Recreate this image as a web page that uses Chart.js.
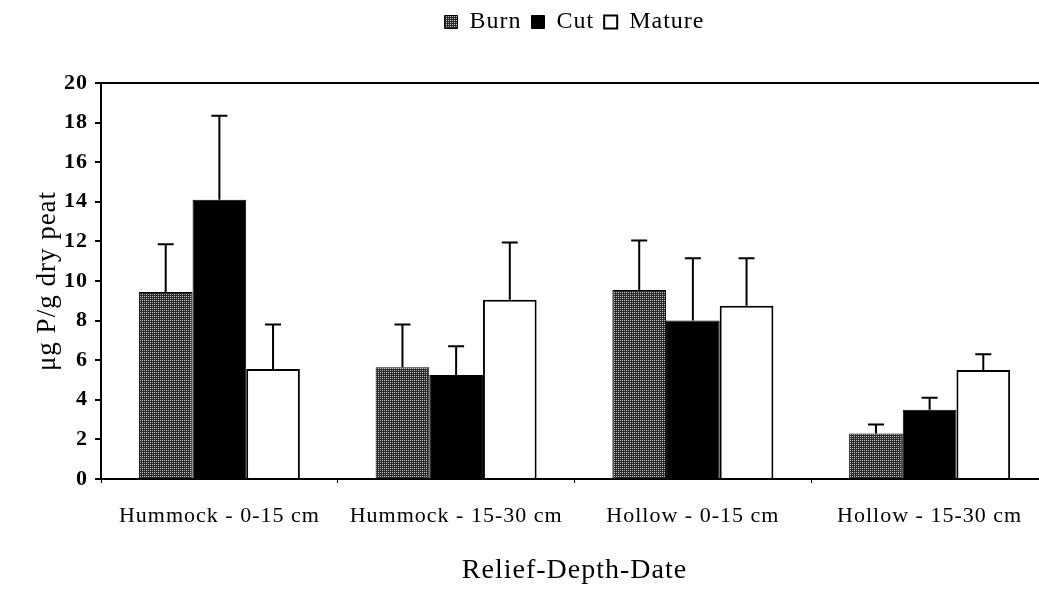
<!DOCTYPE html>
<html>
<head>
<meta charset="utf-8">
<script src="https://cdn.jsdelivr.net/npm/chart.js@4.4.1/dist/chart.umd.min.js"></script>
<style>
    html, body { margin: 0; padding: 0; background: #fff; overflow: hidden; }
    #wrap { width: 1148px; height: 589px; }
</style>
</head>
<body>
<div id="wrap"><canvas id="peatChart"></canvas></div>
<script>
// Phosphorus in peat by relief/depth, three site treatments
const categories = ['Hummock - 0-15 cm', 'Hummock - 15-30 cm', 'Hollow - 0-15 cm', 'Hollow - 15-30 cm'];
const burn = [9.45, 5.65, 9.55, 2.3];
const cut = [14.1, 5.25, 8.0, 3.5];
const mature = [5.55, 9.05, 8.75, 5.5];
// upper end of each error bar
const burnErr = [11.85, 7.8, 12.05, 2.75];
const cutErr = [18.35, 6.7, 11.15, 4.1];
const matureErr = [7.8, 11.95, 11.15, 6.3];
const yTicks = [0, 2, 4, 6, 8, 10, 12, 14, 16, 18, 20];

const serif = "'Liberation Serif', 'DejaVu Serif', serif";

// stippled grey fill for the Burn bars
function stipple() {
    const c = document.createElement('canvas');
    c.width = 4; c.height = 4;
    const g = c.getContext('2d');
    g.fillStyle = '#2a2a2a';
    g.fillRect(0, 0, 4, 4);
    g.fillStyle = '#c8c8c8';
    g.fillRect(0, 0, 1, 1);
    g.fillRect(2, 2, 1, 1);
    g.fillRect(2, 0, 1, 1);
    g.fillStyle = '#8a8a8a';
    g.fillRect(0, 2, 1, 1);
    return g.createPattern(c, 'repeat');
}
const burnFill = stipple();

// slightly loose type, like the old print
const spacing = {
    id: 'spacing',
    beforeUpdate(chart) { chart.ctx.letterSpacing = '1px'; },
    beforeLayout(chart) { chart.ctx.letterSpacing = '1px'; },
    beforeDraw(chart) { chart.ctx.letterSpacing = '1px'; }
};

// extra room between the legend and the plot
const legendGap = {
    id: 'legendGap',
    beforeInit(chart) {
        const fit = chart.legend.fit;
        chart.legend.fit = function () {
            fit.call(this);
            this.height += 39;
        };
    }
};

// error bars (upper whisker only) + top frame line
const extras = {
    id: 'extras',
    afterDatasetsDraw(chart) {
        const ctx = chart.ctx;
        const y = chart.scales.y;
        ctx.save();
        ctx.strokeStyle = '#000';
        ctx.lineWidth = 2;
        chart.data.datasets.forEach((ds, i) => {
            const meta = chart.getDatasetMeta(i);
            meta.data.forEach((bar, j) => {
                const top = y.getPixelForValue(ds.errTop[j]);
                ctx.beginPath();
                ctx.moveTo(bar.x, bar.y);
                ctx.lineTo(bar.x, top);
                ctx.moveTo(bar.x - 8, top);
                ctx.lineTo(bar.x + 8, top);
                ctx.stroke();
            });
        });
        const a = chart.chartArea;
        ctx.beginPath();
        ctx.moveTo(a.left, a.top);
        ctx.lineTo(a.right, a.top);
        ctx.stroke();
        ctx.restore();
    }
};

new Chart(document.getElementById('peatChart'), {
    type: 'bar',
    data: {
        labels: categories,
        datasets: [{
            label: 'Burn',
            data: burn,
            errTop: burnErr,
            backgroundColor: burnFill,
            borderColor: '#000',
            borderWidth: 1
        }, {
            label: 'Cut',
            data: cut,
            errTop: cutErr,
            backgroundColor: '#000',
            borderColor: '#000',
            borderWidth: 1
        }, {
            label: 'Mature',
            data: mature,
            errTop: matureErr,
            backgroundColor: '#fff',
            borderColor: '#000',
            borderWidth: 2
        }]
    },
    options: {
        responsive: true,
        maintainAspectRatio: false,
        animation: false,
        layout: { padding: { top: 0, right: 100, left: 34, bottom: 2 } },
        datasets: { bar: { categoryPercentage: 0.68, barPercentage: 1.0 } },
        plugins: {
            tooltip: { enabled: false },
            legend: {
                position: 'top',
                fullSize: false,
                labels: {
                    boxWidth: 13,
                    boxHeight: 13,
                    padding: 10,
                    color: '#000',
                    font: { family: serif, size: 24 }
                }
            }
        },
        scales: {
            x: {
                grid: { drawOnChartArea: false, color: '#000', tickLength: 4, lineWidth: 1 },
                border: { color: '#000', width: 2 },
                ticks: { color: '#000', padding: 20, font: { family: serif, size: 22 } },
                title: {
                    display: true,
                    text: 'Relief-Depth-Date',
                    color: '#000',
                    padding: { top: 4, bottom: 0 },
                    font: { family: serif, size: 28 }
                }
            },
            y: {
                min: 0,
                max: 20,
                afterBuildTicks: (s) => { s.ticks = yTicks.map(v => ({ value: v })); },
                grid: { drawOnChartArea: false, color: '#000', tickLength: 6, lineWidth: 2 },
                border: { color: '#000', width: 2 },
                ticks: { color: '#000', padding: 7, font: { family: serif, size: 22, weight: 'bold' } },
                title: {
                    display: true,
                    text: 'μg P/g dry peat',
                    color: '#000',
                    padding: { top: 0, bottom: -4 },
                    font: { family: serif, size: 27, lineHeight: 1 }
                }
            }
        }
    },
    plugins: [spacing, legendGap, extras]
});
</script>
</body>
</html>
